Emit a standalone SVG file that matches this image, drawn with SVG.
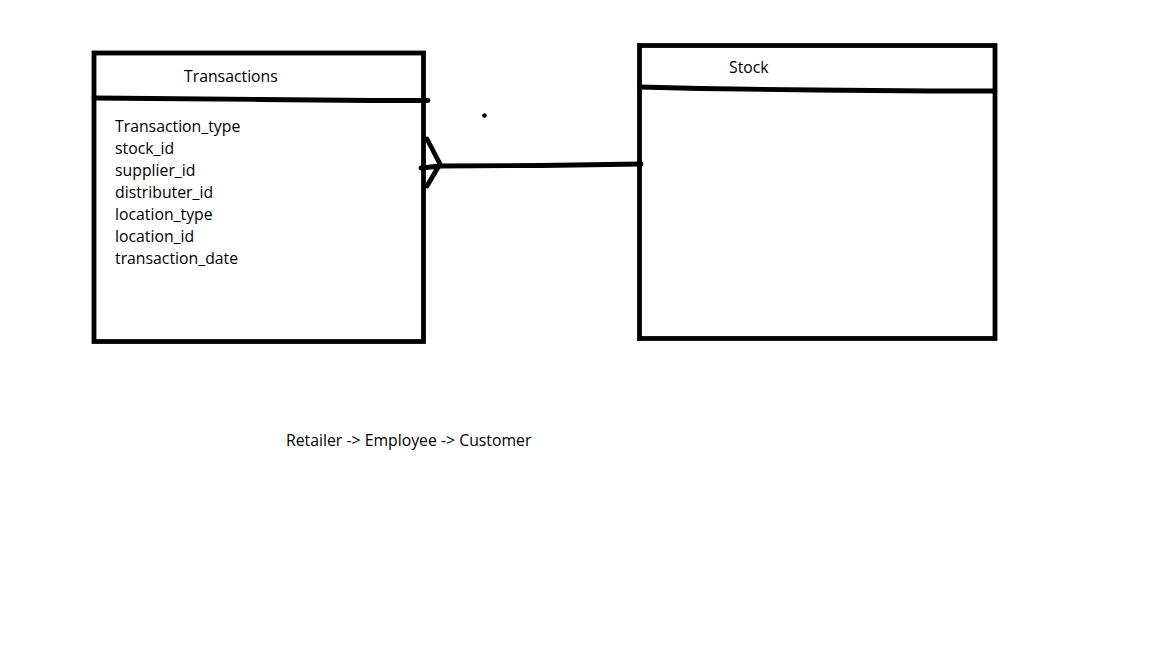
<svg xmlns="http://www.w3.org/2000/svg" width="1152" height="648" viewBox="0 0 1152 648">
  <style>
    .box { fill: none; stroke: #000; stroke-width: 4.8; }
    .pen { fill: none; stroke: #000; stroke-width: 4.8; stroke-linecap: round; stroke-linejoin: round; }
    text { font-family: "Open Sans", "Noto Sans", sans-serif; font-size: 15.8px; fill: #000; }
  </style>
  <rect width="1152" height="648" fill="#fff"/>

  <g id="transactions">
    <rect class="box" x="94" y="53" width="329.5" height="288.5"/>
    <polyline class="pen" points="94,98 150,98.5 260,99.5 372,100.5 428,100.5"/>
    <text x="184" y="82">Transactions</text>
    <text x="115" y="132">Transaction_type</text>
    <text x="115" y="154">stock_id</text>
    <text x="115" y="176">supplier_id</text>
    <text x="115" y="198">distributer_id</text>
    <text x="115" y="220">location_type</text>
    <text x="115" y="242">location_id</text>
    <text x="115" y="264">transaction_date</text>
  </g>

  <g id="stock">
    <rect class="box" x="639.5" y="45.5" width="355.5" height="293"/>
    <polyline class="pen" points="639.5,87 700,88.5 815,90 930,91 995,91"/>
    <text x="729" y="73">Stock</text>
  </g>

  <g id="connectors">
    <polyline class="pen" points="421,168 440,166 541,165.5 641,164"/>
    <polyline class="pen" points="427,139 440,164 427,186"/>
    <circle cx="484.5" cy="115.5" r="2.3" fill="#000"/>
  </g>

  <text x="286" y="446">Retailer -&gt; Employee -&gt; Customer</text>
</svg>
